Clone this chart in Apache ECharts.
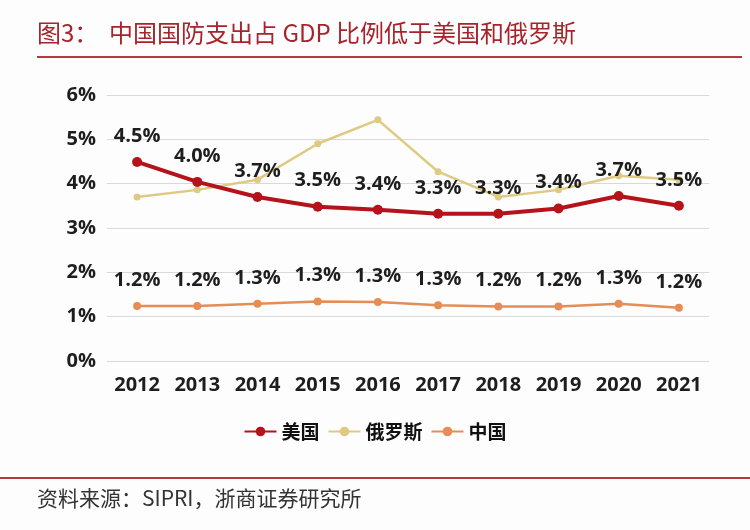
<!DOCTYPE html>
<html><head><meta charset="utf-8">
<script src="https://cdn.jsdelivr.net/npm/echarts@6/dist/echarts.min.js"></script>
<style>html,body{margin:0;padding:0;background:#fdfdfd}#c{width:750px;height:530px}</style>
</head><body><div id="c"></div>
<script>
const years = ['2012','2013','2014','2015','2016','2017','2018','2019','2020','2021'];
const usa = [4.49, 4.04, 3.70, 3.48, 3.41, 3.32, 3.32, 3.44, 3.72, 3.50];
const russia = [3.70, 3.86, 4.09, 4.90, 5.44, 4.27, 3.70, 3.86, 4.18, 4.09];
const china = [1.24, 1.24, 1.29, 1.34, 1.33, 1.26, 1.23, 1.23, 1.29, 1.20];
const yTicks = [0, 1, 2, 3, 4, 5, 6];

const FONT = 'Open Sans, Noto Sans, sans-serif';
const chart = echarts.init(document.getElementById('c'));
const lblFont = {show:true, position:'top', distance:11, color:'#1e1e1e', fontSize:20, fontWeight:'bold', fontFamily:FONT, formatter: p => p.value.toFixed(1) + '%'};
chart.setOption({
  backgroundColor:'#fdfdfd',
  animation:false,
  grid:{left:107, right:41, top:95, bottom:169},
  xAxis:{type:'category', data:years, boundaryGap:true,
    axisLine:{show:false}, axisTick:{show:false},
    axisLabel:{color:'#1e1e1e', fontSize:20, fontWeight:'bold', fontFamily:FONT, margin:14}},
  yAxis:{type:'value', min:yTicks[0], max:yTicks[yTicks.length-1], interval:1,
    axisLine:{show:false}, axisTick:{show:false},
    splitLine:{lineStyle:{color:'#d9d9d9', width:1}},
    axisLabel:{color:'#1e1e1e', fontSize:20, fontWeight:'bold', fontFamily:FONT, margin:11, formatter: v => v + '%'}},
  legend:{bottom:84, left:'center', itemWidth:32, itemHeight:12, itemGap:8,
    textStyle:{color:'#111', fontSize:19, fontWeight:'bold', fontFamily:'Noto Sans CJK SC, sans-serif'},
    data:['美国','俄罗斯','中国']},
  series:[
    {name:'俄罗斯', type:'line', data:russia, symbol:'circle', symbolSize:7, z:2,
      lineStyle:{color:'#DECA82', width:2.5}, itemStyle:{color:'#DECA82'}},
    {name:'美国', type:'line', data:usa, symbol:'circle', symbolSize:10, z:3,
      lineStyle:{color:'#B5121B', width:4}, itemStyle:{color:'#B5121B'}, label:lblFont},
    {name:'中国', type:'line', data:china, symbol:'circle', symbolSize:8, z:3,
      lineStyle:{color:'#E58D55', width:2.5}, itemStyle:{color:'#E58D55'}, label:Object.assign({}, lblFont, {distance:12})}
  ],
  graphic:[
    {type:'text', left:37, top:21, style:{text:'图3：  中国国防支出占 GDP 比例低于美国和俄罗斯', fill:'#A8232B', fontSize:24, fontFamily:'Noto Sans CJK SC, serif', fontWeight:'normal'}},
    {type:'rect', shape:{x:37, y:56, width:705, height:2}, style:{fill:'#B53A3F'}},
    {type:'rect', shape:{x:0, y:477, width:750, height:2}, style:{fill:'#B53A3F'}},
    {type:'text', left:37, top:488, style:{text:'资料来源：SIPRI，浙商证券研究所', fill:'#333', fontSize:21, fontFamily:'Noto Sans CJK SC, serif'}}
  ]
});
</script></body></html>
